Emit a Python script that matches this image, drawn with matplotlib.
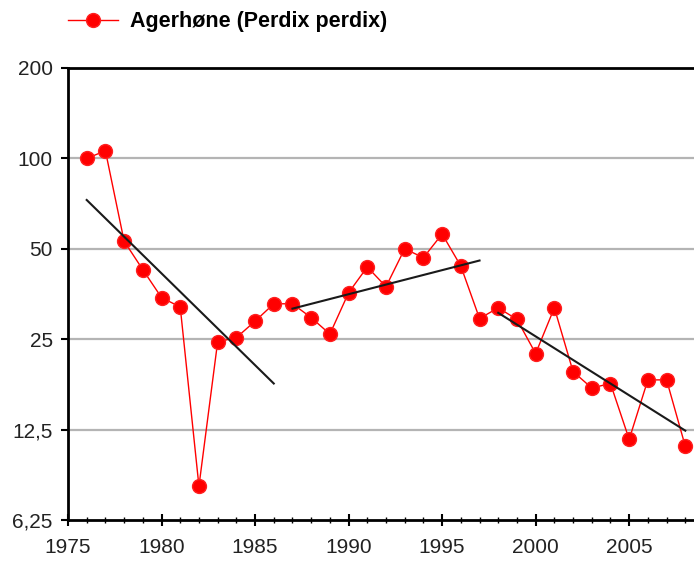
import numpy as np
import matplotlib.pyplot as plt

plt.rcParams['font.family'] = ['Liberation Sans', 'DejaVu Sans']

years = list(range(1976, 2009))
index = [100, 106, 53, 42.6, 34.4, 32, 8.1, 24.5, 25.3, 28.7, 32.8,
         32.8, 29.5, 26, 35.7, 43.5, 37.4, 50, 46.7, 56, 43.8, 29.3,
         31.8, 29.1, 22.4, 31.8, 19.5, 17.2, 17.8, 11.6, 18.3, 18.3, 11]

# trend line endpoints (x, y)
trend1_x = [1976, 1986]
trend1_y = [72.7, 17.8]
trend2_x = [1987, 1997]
trend2_y = [31.6, 45.7]
trend3_x = [1998, 2008]
trend3_y = [30.6, 12.4]

yticks = [6.25, 12.5, 25, 50, 100, 200]
ytick_labels = ['6,25', '12,5', '25', '50', '100', '200']
xticks = [1975, 1980, 1985, 1990, 1995, 2000, 2005]

fig = plt.figure(figsize=(6.94, 5.63), dpi=100)
ax = fig.add_axes([68/694, 43/563, 636/694, 452/563])

ax.set_yscale('log', base=2)
ax.set_ylim(6.25, 200)
ax.set_xlim(1975, 2009)

for t in yticks[1:-1]:
    ax.axhline(t, color='#b4b4b4', lw=1.6, zorder=1)

line, = ax.plot(years, index, color='#ff0000', lw=1.0, marker='o', markersize=10,
                markerfacecolor='#ff0000', markeredgecolor='#ff2020', zorder=3,
                label='Agerhøne (Perdix perdix)')
for tx, ty in [(trend1_x, trend1_y), (trend2_x, trend2_y), (trend3_x, trend3_y)]:
    ax.plot(tx, ty, color='#1a1a1a', lw=1.5, zorder=4)

ax.set_yticks(yticks)
ax.set_yticklabels(ytick_labels)
ax.yaxis.set_minor_locator(plt.NullLocator())
ax.set_xticks(xticks)
ax.set_xticks(range(1975, 2010), minor=True)

ax.tick_params(axis='both', labelsize=15, width=1.5, color='black', labelcolor='#222222')
ax.tick_params(axis='x', which='major', direction='inout', length=8, pad=9)
ax.tick_params(axis='x', which='minor', direction='inout', length=4, width=1)
ax.tick_params(axis='y', which='major', direction='out', length=5, pad=6)

for s in ['left', 'bottom', 'top']:
    ax.spines[s].set_linewidth(2)
ax.spines['right'].set_visible(False)

fig.legend(handles=[line], loc='center left', bbox_to_anchor=(68/694, 1 - 22/563),
           frameon=False, prop={'weight': 'bold', 'size': 15.5},
           borderpad=0, borderaxespad=0,
           handlelength=2.3, handletextpad=0.6)

fig.savefig('out.png', dpi=100)
